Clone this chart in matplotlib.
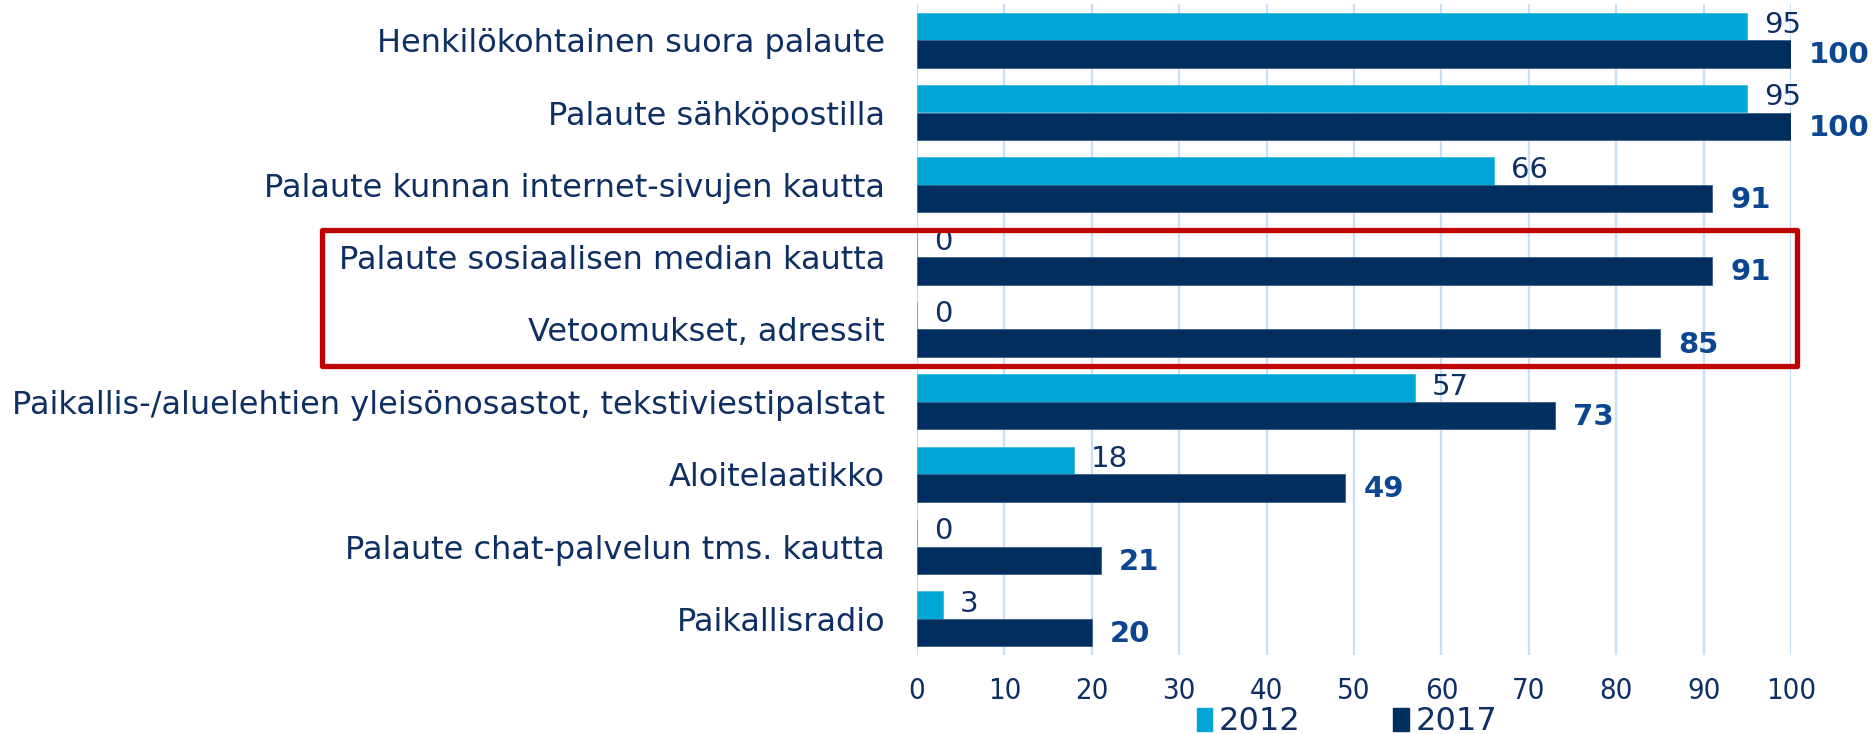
import matplotlib
matplotlib.use("Agg")
import matplotlib.pyplot as plt
import numpy as np
from matplotlib.patches import Rectangle, Patch
import matplotlib.transforms as mtransforms

categories = [
    "Henkilökohtainen suora palaute",
    "Palaute sähköpostilla",
    "Palaute kunnan internet-sivujen kautta",
    "Palaute sosiaalisen median kautta",
    "Vetoomukset, adressit",
    "Paikallis-/aluelehtien yleisönosastot, tekstiviestipalstat",
    "Aloitelaatikko",
    "Palaute chat-palvelun tms. kautta",
    "Paikallisradio",
]
values_2012 = [95, 95, 66, 0, 0, 57, 18, 0, 3]
values_2017 = [100, 100, 91, 91, 85, 73, 49, 21, 20]
series_names = ["2012", "2017"]
xticks = [0, 10, 20, 30, 40, 50, 60, 70, 80, 90, 100]

C2012 = "#00A6D6"
C2017 = "#002F5F"
TXT = "#0E2F63"
BOLDTXT = "#0B4690"
GRID = "#C8DFF8"

plt.rcParams['font.family'] = ['DejaVu Sans']

W, H = 1872, 734
fig = plt.figure(figsize=(W / 100, H / 100), dpi=100)
ax = fig.add_axes([917 / W, 1 - 655 / H, (1791 - 917) / W, (655 - 4) / H])

y = np.arange(len(categories))
bh = 0.38
ax.barh(y - bh / 2, values_2012, height=bh, color=C2012, edgecolor="#3FB8E0", linewidth=0.6, zorder=3)
ax.barh(y + bh / 2, values_2017, height=bh, color=C2017, edgecolor="#3A5F8C", linewidth=0.6, zorder=3)

ax.set_xlim(0, 100)
ax.set_ylim(len(categories) - 0.5, -0.5)
ax.set_xticks(xticks)
ax.set_xticklabels([str(t) for t in xticks], fontsize=21, color=TXT, fontstretch='condensed')
ax.set_yticks(y)
ax.set_yticklabels(categories, fontsize=23, color=TXT)
ax.tick_params(axis='x', length=0, pad=16)
ax.tick_params(axis='y', length=0, pad=23)
for s in ax.spines.values():
    s.set_visible(False)
ax.xaxis.grid(True, color=GRID, linewidth=1.6, zorder=0)
ax.set_axisbelow(True)

for i, (a, b) in enumerate(zip(values_2012, values_2017)):
    ax.annotate(str(a), xy=(a, i - bh / 2), xytext=(12, 1), textcoords="offset points",
                va="center", ha="left", fontsize=21, color=TXT, annotation_clip=False)
    ax.annotate(str(b), xy=(b, i + bh / 2), xytext=(13, -1), textcoords="offset points",
                va="center", ha="left", fontsize=21, fontweight="bold", color=BOLDTXT,
                annotation_clip=False)

# highlight box around social media / petitions
trans = mtransforms.blended_transform_factory(fig.transFigure, ax.transData)
box = Rectangle((322 / W, 2.625), (1797 - 322) / W, 4.51 - 2.625,
                transform=trans, fill=False, edgecolor="#C00000",
                linewidth=3.8, joinstyle='round', clip_on=False, zorder=5)
fig.add_artist(box)

handles = [Patch(facecolor=c, edgecolor=c) for c in (C2012, C2017)]
fig.legend(handles, series_names, loc='center', bbox_to_anchor=(1347 / W, 1 - 722 / H),
           ncol=2, frameon=False, fontsize=23, labelcolor=TXT,
           handlelength=0.5, handleheight=0.7, handletextpad=0.2, columnspacing=2.9, borderpad=0)

fig.savefig("out.png", dpi=100)
